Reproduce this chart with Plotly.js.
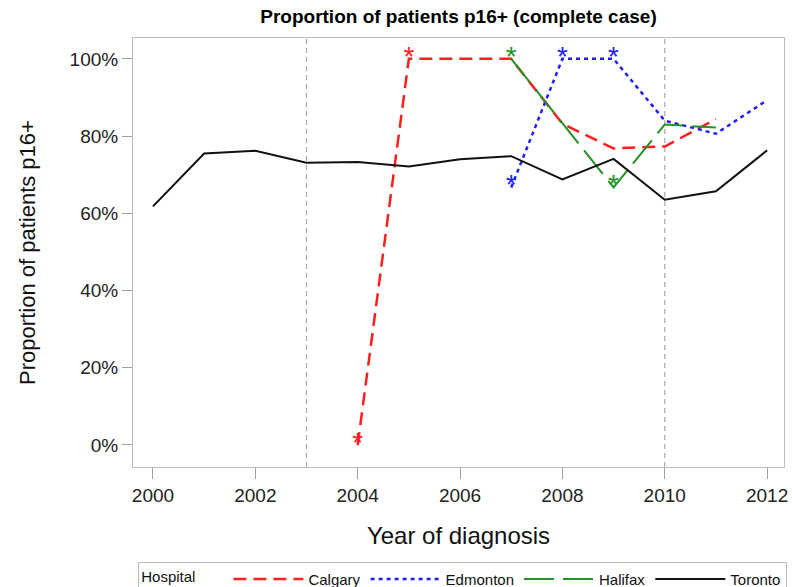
<!DOCTYPE html>
<html>
<head>
<meta charset="utf-8">
<script src="https://cdn.plot.ly/plotly-3.0.1.min.js"></script>
<style>html,body{margin:0;padding:0;background:#fff;}#chart{width:792px;height:587px;}</style>
</head>
<body>
<div id="chart"></div>
<script>
const years = [2000, 2001, 2002, 2003, 2004, 2005, 2006, 2007, 2008, 2009, 2010, 2011, 2012];
const calgaryYears = [2004, 2005, 2006, 2007, 2008, 2009, 2010, 2011];
const calgary = [0, 100, 100, 100, 83.2, 76.8, 77.3, 84.4];
const calgaryStar = [1, 1, 0, 0, 0, 0, 0, 0];
const edmontonYears = [2007, 2008, 2009, 2010, 2011, 2012];
const edmonton = [66.7, 100, 100, 84, 80.6, 89.3];
const edmontonStar = [1, 1, 1, 0, 0, 0];
const halifaxYears = [2007, 2008, 2009, 2010, 2011];
const halifax = [100, 83.3, 66.7, 83, 82.2];
const halifaxStar = [1, 0, 1, 0, 0];
const torontoYears = years;
const toronto = [61.8, 75.5, 76.2, 73.1, 73.3, 72.1, 74.0, 74.8, 68.8, 74.1, 63.5, 65.7, 76.3];
const refYears = [2003, 2010];
const yTicks = [0, 20, 40, 60, 80, 100];
const yTickText = ['0%', '20%', '40%', '60%', '80%', '100%'];
const xTicks = [2000, 2002, 2004, 2006, 2008, 2010, 2012];

const FONT = 'Liberation Sans, Arial, sans-serif';

function lineTrace(name, xs, ys, color, dash, width) {
  return {type: 'scatter', mode: 'lines', name: name, x: xs, y: ys,
          line: {color: color, dash: dash, width: width}};
}
function starTrace(name, xs, ys, flags, color) {
  return {type: 'scatter', mode: 'text', name: name, showlegend: false,
          x: xs.filter((_, i) => flags[i]), y: ys.filter((_, i) => flags[i]),
          text: xs.filter((_, i) => flags[i]).map(() => '*'),
          textposition: 'middle center',
          textfont: {family: FONT, size: 28, color: color}};
}

const cRed = '#ff1e1e', cBlue = '#1e1eff', cGreen = '#239323', cBlack = '#111111';

const data = [
  lineTrace('Calgary', calgaryYears, calgary, cRed, '13px,7px', 2.5),
  lineTrace('Edmonton', edmontonYears, edmonton, cBlue, '4px,4px', 2.5),
  lineTrace('Halifax', halifaxYears, halifax, cGreen, '30px,9px', 2),
  lineTrace('Toronto', torontoYears, toronto, cBlack, 'solid', 2),
  starTrace('Calgary', calgaryYears, calgary, calgaryStar, cRed),
  starTrace('Edmonton', edmontonYears, edmonton, edmontonStar, cBlue),
  starTrace('Halifax', halifaxYears, halifax, halifaxStar, cGreen)
];

const shapes = refYears.map(yr => ({
  type: 'line', xref: 'x', yref: 'paper', x0: yr, x1: yr, y0: 0, y1: 1,
  line: {color: '#aaaaaa', width: 1.2, dash: '5px,4px'}, layer: 'below'
}));

const layout = {
  width: 792, height: 587,
  margin: {l: 133, r: 8, t: 38, b: 120, autoexpand: false},
  paper_bgcolor: '#ffffff', plot_bgcolor: '#ffffff',
  font: {family: FONT, color: '#111'},
  title: {text: '<b>Proportion of patients p16+ (complete case)</b>', font: {size: 19, color: '#000'},
          x: 0.5, xref: 'paper', xanchor: 'center', y: 1, yref: 'container', yanchor: 'top', pad: {t: 10}},
  xaxis: {
    range: [1999.61, 2012.33], tickvals: xTicks, ticktext: xTicks.map(String),
    showgrid: false, zeroline: false, showline: true, mirror: true, automargin: false,
    linecolor: '#bdbdbd', linewidth: 1, ticks: 'outside', ticklen: 11, tickcolor: '#a0a0a0',
    tickfont: {size: 19, color: '#222'},
    title: {text: 'Year of diagnosis', font: {size: 24, color: '#111'}, standoff: 22}
  },
  yaxis: {
    range: [-5.7, 105.4], tickvals: yTicks, ticktext: yTickText,
    showgrid: false, zeroline: false, showline: true, mirror: true, automargin: false,
    linecolor: '#bdbdbd', linewidth: 1, ticks: 'outside', ticklen: 10, tickcolor: '#a0a0a0',
    tickfont: {size: 19, color: '#222'},
    title: {text: 'Proportion of patients p16+', font: {size: 22, color: '#111'}, standoff: 27}
  },
  shapes: shapes,
  showlegend: true,
  legend: {
    orientation: 'h', x: 0.008, xanchor: 'left', y: -0.221, yanchor: 'top',
    bordercolor: '#bdbdbd', borderwidth: 1, itemwidth: 70,
    font: {size: 15, color: '#111'},
    title: {text: 'Hospital\u00a0\u00a0\u00a0\u00a0\u00a0\u00a0', font: {size: 15}, side: 'left'},
    tracegroupgap: 0, itemclick: false
  }
};

Plotly.newPlot('chart', data, layout, {displayModeBar: false, staticPlot: true});
</script>
</body>
</html>
